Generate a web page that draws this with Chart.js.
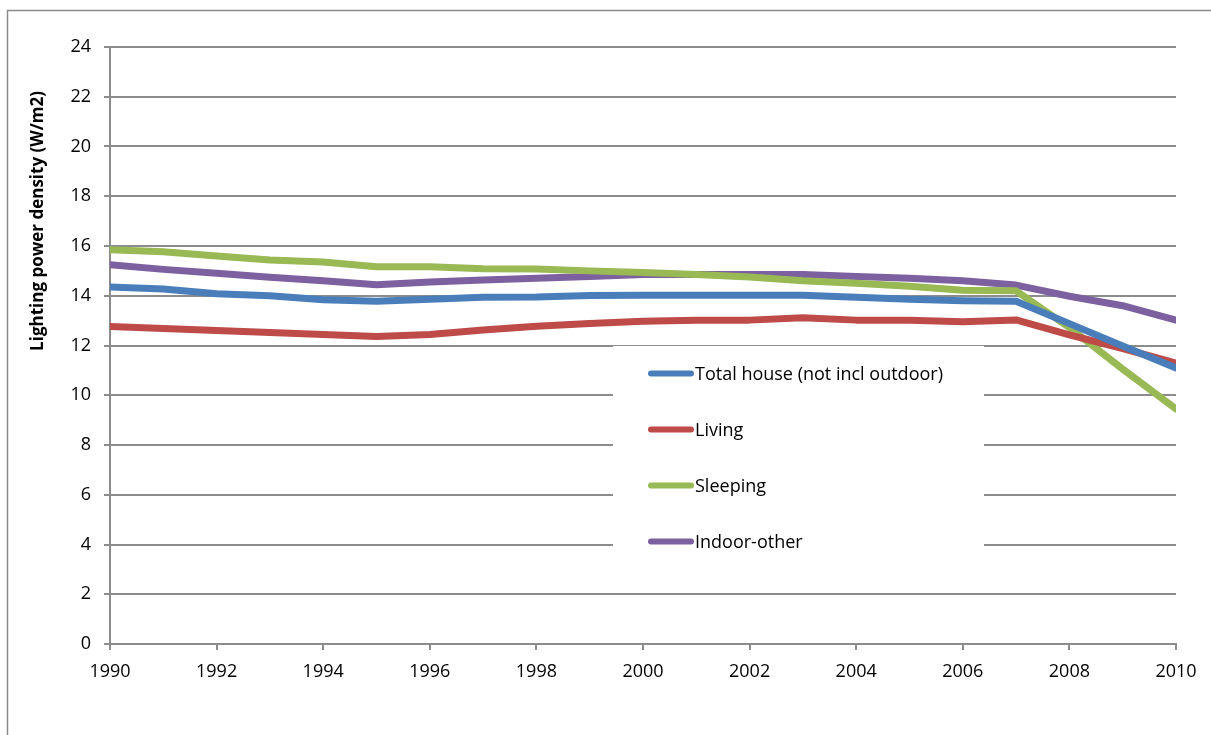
<!DOCTYPE html>
<html>
<head>
<meta charset="utf-8">
<title>Lighting power density</title>
<script src="https://cdn.jsdelivr.net/npm/chart.js@4.4.1/dist/chart.umd.min.js"></script>
<style>
  html, body { margin: 0; padding: 0; background: #ffffff; }
  #wrap { position: relative; width: 1211px; height: 735px; }
  canvas { display: block; }
</style>
</head>
<body>
<div id="wrap"><canvas id="chart" width="1211" height="735"></canvas></div>
<script>
// Years on the horizontal axis
const years = [1990, 1991, 1992, 1993, 1994, 1995, 1996, 1997, 1998, 1999, 2000,
               2001, 2002, 2003, 2004, 2005, 2006, 2007, 2008, 2009, 2010];

// Lighting power density by room type (W/m2)
const totalHouse = [14.35, 14.27, 14.08, 14.0, 13.84, 13.78, 13.86, 13.94, 13.95, 14.01, 14.02,
                    14.02, 14.02, 14.02, 13.94, 13.86, 13.8, 13.78, 12.88, 11.98, 11.1];
const living     = [12.76, 12.68, 12.6, 12.52, 12.44, 12.36, 12.44, 12.62, 12.77, 12.88, 12.97,
                    13.02, 13.02, 13.12, 13.02, 13.02, 12.95, 13.03, 12.43, 11.88, 11.29];
const sleeping   = [15.85, 15.77, 15.6, 15.44, 15.36, 15.17, 15.17, 15.09, 15.08, 15.0, 14.93,
                    14.85, 14.75, 14.6, 14.5, 14.38, 14.22, 14.2, 12.72, 11.05, 9.45];
const indoorOther= [15.25, 15.06, 14.9, 14.74, 14.6, 14.44, 14.55, 14.63, 14.7, 14.77, 14.85,
                    14.85, 14.85, 14.85, 14.77, 14.7, 14.6, 14.43, 13.98, 13.6, 13.02];

const seriesNames = ['Total house (not incl outdoor)', 'Living', 'Sleeping', 'Indoor-other'];
const seriesColors = ['#4a7ebb', '#be4b48', '#98b954', '#7d60a0'];
const seriesValues = [totalHouse, living, sleeping, indoorOther];

const yTicks = { min: 0, max: 24, step: 2 };
const xTicks = { min: 1990, max: 2010, step: 2 };
const yTitle = 'Lighting power density (W/m2)';

const FONT = '"Open Sans", Lato, sans-serif';
const GRID = '#8c8c8c';

const datasets = seriesValues.map((vals, i) => ({
  label: seriesNames[i],
  data: vals.map((v, j) => ({ x: years[j], y: v })),
  borderColor: seriesColors[i],
  backgroundColor: seriesColors[i],
  borderWidth: 7,
  borderCapStyle: 'round',
  borderJoinStyle: 'round',
  pointRadius: 0,
  pointHoverRadius: 0,
  tension: 0,
  fill: false
}));

// Outer frame of the chart object
const framePlugin = {
  id: 'frame',
  beforeDraw(chart) {
    const ctx = chart.ctx;
    ctx.save();
    ctx.fillStyle = '#ffffff';
    ctx.fillRect(0, 0, chart.width, chart.height);
    ctx.strokeStyle = '#8a8a8a';
    ctx.lineWidth = 1.5;
    ctx.beginPath();
    ctx.moveTo(7.5, chart.height + 2);
    ctx.lineTo(7.5, 10.5);
    ctx.lineTo(chart.width + 2, 10.5);
    ctx.stroke();
    ctx.restore();
  }
};

// Rotated value-axis title
const yTitlePlugin = {
  id: 'yTitle',
  afterDraw(chart) {
    const ctx = chart.ctx;
    ctx.save();
    ctx.translate(38, 221);
    ctx.rotate(-Math.PI / 2);
    ctx.font = 'bold 17px ' + FONT;
    ctx.fillStyle = '#000000';
    ctx.textAlign = 'center';
    ctx.textBaseline = 'middle';
    ctx.fillText(yTitle, 0, 0);
    ctx.restore();
  }
};

// Boxed legend placed inside the plot area
const boxLegendPlugin = {
  id: 'boxLegend',
  beforeDatasetsDraw(chart) {
    const ctx = chart.ctx;
    const box = { x: 613, y: 346, w: 371, h: 226 };
    ctx.save();
    ctx.fillStyle = '#ffffff';
    ctx.fillRect(box.x, box.y, box.w, box.h);
    ctx.font = '18px ' + FONT;
    ctx.textBaseline = 'middle';
    ctx.textAlign = 'left';
    chart.data.datasets.forEach((ds, i) => {
      const y = 373.5 + i * 56;
      ctx.strokeStyle = ds.borderColor;
      ctx.lineWidth = 6;
      ctx.lineCap = 'round';
      ctx.beginPath();
      ctx.moveTo(651, y);
      ctx.lineTo(691, y);
      ctx.stroke();
      ctx.fillStyle = '#000000';
      ctx.fillText(ds.label, 695, y + 1);
    });
    ctx.restore();
  }
};

new Chart(document.getElementById('chart'), {
  type: 'line',
  data: { datasets },
  plugins: [framePlugin, boxLegendPlugin, yTitlePlugin],
  options: {
    responsive: false,
    animation: false,
    events: [],
    layout: { padding: { left: 0, top: 47, right: 35, bottom: 0 } },
    plugins: {
      legend: { display: false },
      tooltip: { enabled: false },
      title: { display: false }
    },
    scales: {
      x: {
        type: 'linear',
        min: xTicks.min,
        max: xTicks.max,
        afterFit(scale) { scale.height = 91; },
        ticks: {
          stepSize: xTicks.step,
          callback: v => String(v),
          color: '#000000',
          font: { family: FONT, size: 18 },
          padding: 11,
          maxRotation: 0,
          autoSkip: false
        },
        grid: {
          drawOnChartArea: false,
          drawTicks: true,
          tickLength: 6,
          color: GRID,
          lineWidth: 2
        },
        border: { display: true, color: GRID, width: 2 }
      },
      y: {
        min: yTicks.min,
        max: yTicks.max,
        afterFit(scale) { scale.width = 110; },
        ticks: {
          stepSize: yTicks.step,
          color: '#000000',
          font: { family: FONT, size: 18 },
          padding: 13
        },
        grid: {
          color: GRID,
          lineWidth: 2,
          drawTicks: true,
          tickLength: 6
        },
        border: { display: true, color: GRID, width: 2 }
      }
    }
  }
});
</script>
</body>
</html>
